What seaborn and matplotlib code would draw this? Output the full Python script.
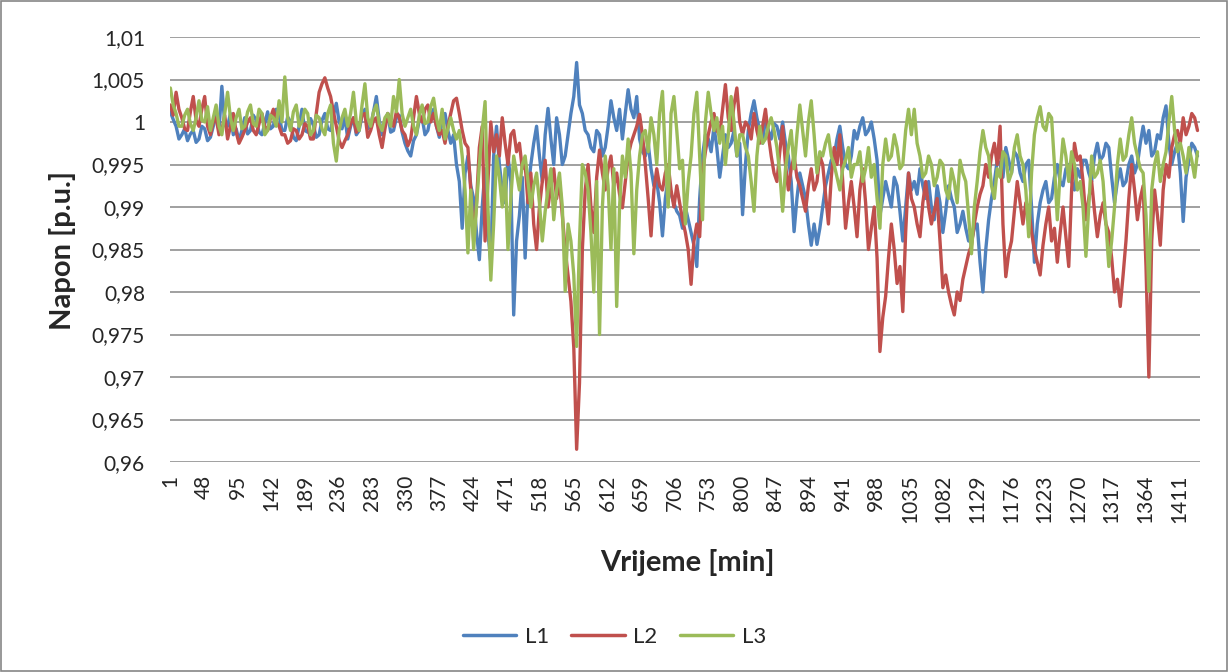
import numpy as np
import pandas as pd
import matplotlib
matplotlib.use("Agg")
import matplotlib.pyplot as plt
import seaborn as sns
from matplotlib.patches import Rectangle
from matplotlib.ticker import FixedLocator, FuncFormatter

# minute index of each sample (every 4th minute of the day)
minutes = list(range(1, 1441, 4))

L1 = [
    1.0012, 1.0003, 0.9995, 0.9980, 0.9985, 0.9992, 0.9978, 0.9986, 0.9990, 0.9976, 0.9980, 0.9995, 0.9992, 0.9978, 0.9982, 0.9995, 1.0008, 0.9990, 1.0042, 0.9998,
    0.9995, 1.0010, 0.9985, 0.9992, 0.9978, 0.9990, 1.0005, 0.9986, 0.9990, 1.0008, 1.0002, 0.9988, 0.9985, 0.9998, 1.0012, 0.9992, 0.9995, 1.0015, 1.0008, 0.9990,
    0.9990, 1.0006, 1.0000, 0.9982, 0.9978, 0.9995, 1.0015, 0.9990, 0.9988, 1.0004, 0.9996, 0.9982, 0.9985, 1.0002, 1.0010, 0.9992, 0.9990, 1.0008, 1.0022, 1.0000,
    0.9992, 1.0006, 0.9980, 0.9995, 1.0005, 0.9985, 0.9990, 1.0008, 1.0015, 0.9992, 0.9995, 1.0012, 1.0030, 1.0002, 0.9985, 1.0000, 1.0010, 0.9988, 0.9990, 1.0005,
    1.0008, 0.9988, 0.9975, 0.9966, 0.9960, 0.9978, 0.9985, 1.0002, 1.0005, 0.9985, 0.9990, 1.0008, 1.0015, 0.9995, 0.9982, 1.0000, 1.0010, 0.9990, 0.9975, 0.9985,
    0.9950, 0.9930, 0.9875, 0.9940, 0.9960, 0.9925, 0.9910, 0.9870, 0.9838, 0.9900, 0.9945, 0.9870, 0.9835, 0.9960, 0.9995, 0.9950, 0.9920, 0.9905, 0.9960, 0.9930,
    0.9773, 0.9860, 0.9890, 0.9935, 0.9840, 0.9920, 0.9950, 0.9975, 0.9995, 0.9960, 0.9930, 0.9985, 1.0016, 0.9980, 0.9950, 1.0005, 0.9985, 0.9950, 0.9960, 0.9985,
    1.0010, 1.0030, 1.0070, 1.0020, 1.0010, 0.9990, 0.9985, 0.9970, 0.9965, 0.9990, 0.9985, 0.9960, 0.9970, 0.9995, 1.0025, 1.0005, 0.9990, 1.0015, 0.9980, 1.0010,
    1.0038, 1.0015, 1.0005, 1.0030, 0.9980, 0.9965, 0.9960, 0.9975, 0.9945, 0.9925, 0.9930, 0.9905, 0.9866, 0.9910, 0.9935, 0.9915, 0.9905, 0.9895, 0.9890, 0.9875,
    0.9900, 0.9885, 0.9870, 0.9855, 0.9830, 0.9910, 0.9960, 0.9985, 0.9980, 0.9965, 0.9995, 0.9970, 0.9935, 0.9960, 0.9985, 0.9970, 0.9975, 0.9990, 0.9960, 0.9975,
    0.9891, 0.9950, 0.9990, 1.0010, 1.0025, 1.0005, 0.9990, 0.9975, 1.0005, 0.9990, 0.9980, 0.9998, 0.9995, 0.9980, 1.0000, 0.9975, 0.9960, 0.9930, 0.9871, 0.9910,
    0.9940, 0.9925, 0.9910, 0.9880, 0.9855, 0.9880, 0.9856, 0.9875, 0.9900, 0.9925, 0.9940, 0.9955, 0.9960, 0.9980, 0.9995, 0.9970, 0.9950, 0.9945, 0.9960, 0.9990,
    0.9980, 0.9995, 1.0005, 0.9985, 0.9990, 1.0000, 0.9980, 0.9955, 0.9890, 0.9910, 0.9930, 0.9915, 0.9900, 0.9935, 0.9925, 0.9895, 0.9860, 0.9900, 0.9940, 0.9920,
    0.9930, 0.9915, 0.9945, 0.9925, 0.9910, 0.9930, 0.9900, 0.9885, 0.9925, 0.9905, 0.9870, 0.9895, 0.9925, 0.9910, 0.9900, 0.9870, 0.9880, 0.9895, 0.9875, 0.9860,
    0.9860, 0.9875, 0.9880, 0.9835, 0.9800, 0.9850, 0.9885, 0.9910, 0.9930, 0.9955, 0.9950, 0.9935, 0.9970, 0.9955, 0.9940, 0.9965, 0.9960, 0.9940, 0.9930, 0.9950,
    0.9955, 0.9900, 0.9835, 0.9880, 0.9905, 0.9920, 0.9930, 0.9905, 0.9910, 0.9935, 0.9950, 0.9930, 0.9925, 0.9945, 0.9950, 0.9930, 0.9920, 0.9945, 0.9935, 0.9955,
    0.9955, 0.9940, 0.9930, 0.9960, 0.9975, 0.9955, 0.9960, 0.9975, 0.9970, 0.9935, 0.9905, 0.9930, 0.9945, 0.9925, 0.9930, 0.9950, 0.9960, 0.9940, 0.9950, 0.9975,
    0.9995, 0.9975, 0.9990, 0.9960, 0.9965, 0.9985, 0.9980, 1.0005, 1.0019, 0.9975, 0.9950, 0.9965, 0.9975, 0.9940, 0.9883, 0.9935, 0.9955, 0.9975, 0.9970, 0.9960,
]

L2 = [
    1.0020, 1.0008, 1.0035, 1.0015, 1.0005, 0.9992, 0.9990, 1.0012, 1.0030, 1.0002, 0.9995, 1.0015, 1.0030, 0.9995, 0.9985, 1.0000, 1.0005, 0.9985, 0.9990, 1.0008,
    0.9980, 0.9995, 1.0010, 0.9988, 0.9975, 0.9982, 0.9990, 1.0000, 1.0005, 0.9990, 0.9985, 0.9998, 1.0010, 0.9995, 0.9990, 1.0005, 1.0015, 1.0000, 0.9995, 0.9985,
    0.9985, 0.9975, 0.9978, 0.9992, 0.9990, 0.9980, 0.9985, 0.9998, 0.9995, 0.9980, 0.9980, 1.0010, 1.0035, 1.0045, 1.0052, 1.0040, 1.0030, 1.0012, 0.9995, 0.9978,
    0.9970, 0.9978, 0.9985, 0.9998, 1.0005, 0.9988, 0.9995, 1.0008, 1.0010, 0.9982, 0.9990, 1.0002, 1.0005, 0.9985, 0.9970, 0.9992, 1.0010, 1.0000, 0.9995, 1.0012,
    1.0005, 0.9990, 0.9985, 0.9972, 0.9980, 1.0005, 1.0030, 1.0010, 1.0000, 1.0015, 1.0020, 1.0000, 1.0010, 0.9995, 0.9985, 0.9990, 0.9975, 0.9995, 1.0010, 1.0025,
    1.0028, 1.0010, 0.9990, 0.9975, 0.9970, 0.9920, 0.9860, 0.9905, 0.9970, 0.9995, 0.9860, 0.9930, 1.0000, 0.9965, 0.9985, 0.9960, 1.0005, 0.9975, 0.9950, 0.9985,
    0.9990, 0.9965, 0.9975, 0.9945, 0.9950, 0.9905, 0.9940, 0.9880, 0.9850, 0.9900, 0.9930, 0.9955, 0.9900, 0.9925, 0.9945, 0.9910, 0.9930, 0.9890, 0.9850, 0.9820,
    0.9789, 0.9735, 0.9615, 0.9693, 0.9850, 0.9920, 0.9950, 0.9900, 0.9870, 0.9935, 0.9967, 0.9940, 0.9920, 0.9945, 0.9960, 0.9925, 0.9940, 0.9915, 0.9899, 0.9930,
    0.9960, 0.9975, 0.9985, 0.9995, 1.0009, 0.9985, 0.9950, 0.9910, 0.9866, 0.9920, 0.9945, 0.9925, 0.9920, 0.9940, 0.9950, 0.9920, 0.9900, 0.9925, 0.9905, 0.9885,
    0.9870, 0.9850, 0.9809, 0.9860, 0.9880, 0.9865, 0.9940, 0.9965, 0.9985, 1.0000, 1.0010, 0.9990, 0.9985, 1.0015, 1.0044, 1.0005, 0.9990, 1.0020, 1.0040, 1.0000,
    0.9985, 1.0000, 0.9995, 0.9980, 1.0010, 0.9990, 0.9975, 0.9995, 1.0015, 0.9985, 0.9960, 0.9940, 0.9930, 0.9965, 0.9995, 0.9950, 0.9920, 0.9945, 0.9960, 0.9935,
    0.9925, 0.9910, 0.9895, 0.9925, 0.9945, 0.9920, 0.9930, 0.9960, 0.9950, 0.9915, 0.9880, 0.9935, 0.9970, 0.9950, 0.9985, 0.9930, 0.9875, 0.9905, 0.9930, 0.9900,
    0.9865, 0.9920, 0.9945, 0.9905, 0.9850, 0.9875, 0.9900, 0.9840, 0.9730, 0.9770, 0.9795, 0.9840, 0.9880, 0.9850, 0.9810, 0.9830, 0.9777, 0.9870, 0.9940, 0.9910,
    0.9900, 0.9880, 0.9865, 0.9905, 0.9930, 0.9900, 0.9880, 0.9895, 0.9910, 0.9860, 0.9805, 0.9820, 0.9800, 0.9785, 0.9773, 0.9800, 0.9790, 0.9815, 0.9830, 0.9845,
    0.9855, 0.9880, 0.9900, 0.9915, 0.9925, 0.9950, 0.9935, 0.9960, 0.9975, 0.9950, 0.9995, 0.9880, 0.9818, 0.9845, 0.9860, 0.9895, 0.9930, 0.9905, 0.9880, 0.9905,
    0.9900, 0.9870, 0.9850, 0.9835, 0.9820, 0.9855, 0.9880, 0.9900, 0.9860, 0.9875, 0.9835, 0.9870, 0.9900, 0.9865, 0.9830, 0.9920, 0.9975, 0.9955, 0.9960, 0.9930,
    0.9885, 0.9910, 0.9930, 0.9895, 0.9865, 0.9890, 0.9905, 0.9880, 0.9870, 0.9840, 0.9800, 0.9815, 0.9783, 0.9820, 0.9860, 0.9910, 0.9950, 0.9920, 0.9885, 0.9910,
    0.9925, 0.9830, 0.9700, 0.9860, 0.9920, 0.9890, 0.9855, 0.9920, 0.9950, 0.9935, 0.9970, 0.9985, 0.9990, 0.9975, 1.0005, 0.9985, 0.9995, 1.0010, 1.0005, 0.9990,
]

L3 = [
    1.0040, 1.0020, 1.0010, 0.9995, 0.9995, 1.0008, 1.0015, 0.9998, 0.9990, 1.0005, 1.0025, 1.0002, 1.0000, 1.0018, 0.9990, 1.0005, 1.0020, 0.9995, 0.9985, 1.0010,
    1.0035, 1.0005, 0.9990, 1.0005, 1.0015, 0.9992, 0.9995, 1.0012, 1.0020, 0.9998, 0.9995, 1.0015, 1.0010, 0.9985, 0.9990, 1.0008, 1.0005, 0.9995, 1.0025, 1.0000,
    1.0053, 1.0005, 0.9990, 1.0012, 1.0020, 0.9995, 1.0000, 1.0015, 1.0010, 0.9985, 0.9990, 1.0008, 1.0005, 0.9992, 0.9985, 1.0010, 1.0020, 0.9975, 0.9954, 0.9990,
    1.0005, 1.0015, 0.9995, 1.0010, 1.0035, 1.0000, 0.9990, 1.0020, 1.0045, 1.0005, 0.9995, 1.0012, 1.0020, 0.9998, 0.9990, 1.0005, 1.0010, 0.9995, 1.0030, 1.0012,
    1.0050, 1.0010, 0.9995, 1.0005, 1.0015, 0.9995, 0.9985, 1.0008, 1.0020, 0.9998, 1.0000, 1.0018, 1.0028, 1.0005, 0.9990, 1.0015, 0.9980, 0.9992, 1.0005, 0.9990,
    0.9980, 0.9990, 0.9960, 0.9920, 0.9846, 0.9920, 0.9850, 0.9900, 0.9950, 0.9990, 1.0024, 0.9900, 0.9814, 0.9880, 0.9960, 0.9935, 0.9900, 0.9945, 0.9850, 0.9910,
    0.9960, 0.9940, 0.9920, 0.9950, 0.9960, 0.9930, 0.9900, 0.9925, 0.9940, 0.9905, 0.9860, 0.9895, 0.9920, 0.9945, 0.9885, 0.9920, 0.9940, 0.9900, 0.9801, 0.9880,
    0.9860, 0.9820, 0.9736, 0.9860, 0.9950, 0.9940, 0.9920, 0.9870, 0.9800, 0.9930, 0.9750, 0.9900, 0.9960, 0.9925, 0.9850, 0.9945, 0.9783, 0.9900, 0.9960, 0.9935,
    0.9980, 0.9940, 0.9845, 0.9920, 0.9960, 0.9985, 0.9990, 0.9965, 1.0005, 0.9985, 0.9950, 1.0010, 1.0036, 0.9960, 0.9900, 1.0010, 1.0030, 0.9990, 0.9945, 0.9955,
    0.9880, 0.9930, 0.9960, 1.0010, 1.0035, 0.9960, 0.9885, 1.0000, 1.0035, 1.0010, 0.9990, 1.0005, 0.9975, 0.9995, 0.9950, 0.9985, 1.0030, 1.0000, 0.9960, 0.9985,
    0.9985, 0.9970, 0.9960, 0.9930, 0.9895, 0.9960, 0.9995, 0.9975, 0.9980, 0.9995, 1.0005, 0.9990, 0.9970, 0.9940, 0.9895, 0.9945, 0.9970, 0.9990, 0.9945, 0.9985,
    1.0020, 0.9990, 0.9960, 1.0000, 1.0025, 0.9985, 0.9940, 0.9965, 0.9960, 0.9975, 0.9985, 0.9960, 0.9950, 0.9935, 0.9920, 0.9945, 0.9955, 0.9970, 0.9935, 0.9950,
    0.9950, 0.9965, 0.9930, 0.9945, 0.9970, 0.9935, 0.9950, 0.9910, 0.9875, 0.9950, 0.9980, 0.9955, 0.9960, 0.9985, 0.9970, 0.9945, 0.9950, 0.9990, 1.0015, 0.9985,
    1.0015, 0.9975, 0.9960, 0.9935, 0.9940, 0.9960, 0.9950, 0.9925, 0.9935, 0.9955, 0.9950, 0.9920, 0.9910, 0.9945, 0.9930, 0.9905, 0.9955, 0.9940, 0.9930, 0.9890,
    0.9845, 0.9900, 0.9930, 0.9965, 0.9990, 0.9970, 0.9960, 0.9925, 0.9910, 0.9945, 0.9935, 0.9965, 0.9960, 0.9930, 0.9940, 0.9970, 0.9985, 0.9960, 0.9950, 0.9920,
    0.9865, 0.9940, 0.9985, 1.0005, 1.0018, 0.9995, 0.9990, 1.0010, 1.0005, 0.9950, 0.9885, 0.9940, 0.9980, 0.9960, 0.9930, 0.9965, 0.9950, 0.9920, 0.9930, 0.9900,
    0.9842, 0.9900, 0.9960, 0.9935, 0.9940, 0.9955, 0.9930, 0.9880, 0.9830, 0.9860, 0.9900, 0.9950, 0.9980, 0.9955, 0.9960, 0.9985, 1.0005, 0.9975, 0.9960, 0.9945,
    0.9940, 0.9890, 0.9801, 0.9920, 0.9950, 0.9965, 0.9930, 0.9950, 0.9965, 1.0000, 1.0030, 0.9990, 0.9965, 0.9975, 0.9960, 0.9940, 0.9970, 0.9955, 0.9935, 0.9965,
]

series_names = ["L1", "L2", "L3"]
colors = ["#4F81BD", "#C0504D", "#9BBB59"]
y_ticks = [0.96, 0.965, 0.97, 0.975, 0.98, 0.985, 0.99, 0.995, 1.0, 1.005, 1.01]
x_ticks = list(range(1, 1441, 47))

df = pd.DataFrame({
    "Vrijeme": minutes * 3,
    "Napon": L1 + L2 + L3,
    "Faza": [n for n in series_names for _ in minutes],
})

sns.set_theme(style="white")
plt.rcParams["font.family"] = ["Lato", "DejaVu Sans"]

fig = plt.figure(figsize=(12.29, 6.72), dpi=100)
ax = fig.add_axes([170 / 1229, 1 - 462 / 672, 1030 / 1229, 425 / 672])

sns.lineplot(data=df, x="Vrijeme", y="Napon", hue="Faza", palette=colors,
             linewidth=2.4, ax=ax, legend=False, estimator=None)

ax.set_xlim(0.5, 1440.5)
ax.set_ylim(0.96, 1.01)
ax.yaxis.set_major_locator(FixedLocator(y_ticks))
ax.yaxis.set_major_formatter(FuncFormatter(lambda v, p: f"{v:g}".replace(".", ",")))
ax.set_xticks(x_ticks)
ax.set_xticklabels([str(t) for t in x_ticks], rotation=90, fontsize=15)
ax.tick_params(axis="y", labelsize=15, length=0, pad=18)
ax.tick_params(axis="x", length=0, pad=9)
ax.grid(axis="y", color="#868686", linewidth=1.1)
ax.grid(axis="x", visible=False)
ax.set_axisbelow(True)
for s in ax.spines.values():
    s.set_visible(False)

ax.set_xlabel("Vrijeme [min]", fontsize=21, fontweight="bold")
ax.set_ylabel("Napon [p.u.]", fontsize=21, fontweight="bold")
ax.xaxis.set_label_coords((687 - 170) / 1030, (462 - 563) / 425)
ax.xaxis.label.set_va("center")
ax.yaxis.set_label_coords((62 - 170) / 1030, (462 - 250) / 425)
ax.yaxis.label.set_va("center")

handles = [plt.Line2D([], [], color=c, linewidth=2.5) for c in colors]
fig.legend(handles, series_names, loc="center", bbox_to_anchor=(0.5, 1 - 637 / 672),
           ncol=3, frameon=False, fontsize=16, handlelength=2.4,
           columnspacing=1.0, handletextpad=0.4)

fig.patches.append(Rectangle((0.001, 0.002), 0.997, 0.996, transform=fig.transFigure,
                             fill=False, edgecolor="#868686", linewidth=1.2))

fig.savefig("out.png", dpi=100)
